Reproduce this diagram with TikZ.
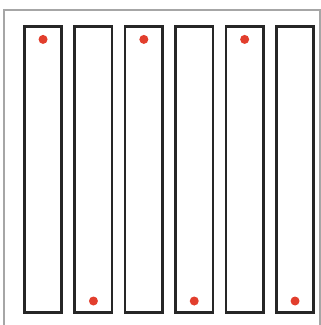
\documentclass[tikz,border=0pt]{standalone}
\usepackage{xcolor}
\definecolor{dotred}{RGB}{226,62,45}
\tikzset{
  strip/.style={draw=black!85, line width=2.6pt, minimum width=37.5pt, minimum height=286pt, inner sep=0pt},
  reddot/.style={circle, fill=dotred, minimum size=9pt, inner sep=0pt},
}
\begin{document}
\begin{tikzpicture}[x=1pt,y=-1pt]
    \useasboundingbox (0,0) rectangle (321,325);
    \draw[gray!70, line width=1.3pt] (4,325) -- (4,10) -- (320,10) -- (320,325);

    \foreach \i in {0,...,5} {
        \node[strip, anchor=south west] (col\i) at ({23+50.4*\i},314) {};
    }

    \foreach \i in {0,2,4}
        \node[reddot] (dot\i) at ([yshift=-14pt]col\i.north) {};
    \foreach \i in {1,3,5}
        \node[reddot] (dot\i) at ([yshift=13pt]col\i.south) {};
\end{tikzpicture}
\end{document}
